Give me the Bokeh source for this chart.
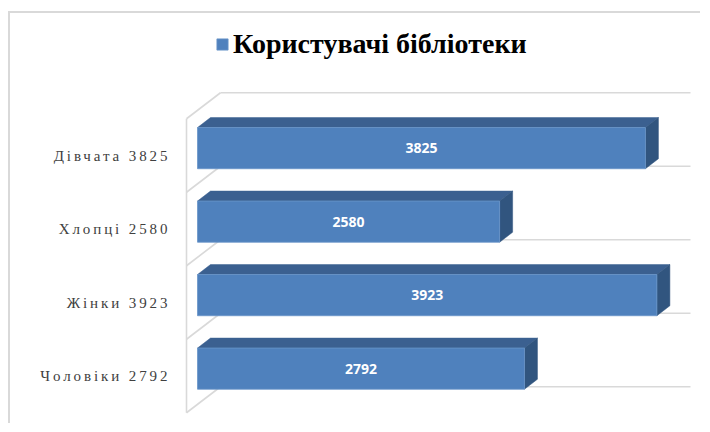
from bokeh.plotting import figure
from bokeh.layouts import row
from bokeh.models import Range1d, Legend, LegendItem, ColumnDataSource
from bokeh.embed import file_html
from bokeh.resources import INLINE
from bokeh.core.properties import value

# ---- data ----
categories = ["Чоловіки", "Жінки", "Хлопці", "Дівчата"]
counts = [2792, 3923, 2580, 3825]
series_name = "Користувачі бібліотеки"
tick_labels = [f"{c} {v}" for c, v in zip(categories, counts)]

# ---- style constants ----
FRONT = "#4F81BD"
TOP = "#3B6090"
SIDE = "#31557F"
WALL = "#D9D9D9"
PX_X = 0.1171          # pixels per value unit
PX_Y = 73.5            # pixels per category slot
BAR_H = 0.56
BAR_OFF = 0.10
BAR_DX = 13 / PX_X
BAR_DY = 10 / PX_Y
WALL_DX = 34 / PX_X
WALL_DY = 26 / PX_Y
SIDE_X = -11 / PX_X
BACK_END = 493 / PX_X
LETTER_SP = 2.9        # px, letter spacing of category labels
LABEL_RIGHT = 157      # px inside label panel

n = len(categories)
idx = list(range(n))
yc = [i + BAR_OFF for i in idx]

y_range = Range1d(-47.5 / PX_Y, 362.5 / PX_Y)

# ---- category label panel (left) ----
lab = figure(width=170, height=410, output_backend="svg", toolbar_location=None,
             x_axis_location=None, y_axis_location=None,
             x_range=Range1d(0, 170), y_range=y_range,
             min_border_left=0, min_border_right=0, min_border_top=0, min_border_bottom=0)
lab.grid.visible = False
lab.outline_line_color = None
lab.styles = {"letter-spacing": f"{LETTER_SP}px"}
lsrc = ColumnDataSource(dict(y=idx, text=tick_labels,
                             x=[LABEL_RIGHT] * n,
                             off=[-(len(t) - 1) * LETTER_SP for t in tick_labels]))
lab.text(x="x", y="y", text="text", x_offset="off", source=lsrc,
         text_font=value("Liberation Serif"), text_font_size="15px",
         text_color="#404040", text_align="right", text_baseline="middle")

# ---- main chart ----
p = figure(width=520, height=410, output_backend="svg", toolbar_location=None,
           x_axis_location=None, y_axis_location=None,
           x_range=Range1d(-17 / PX_X, 503 / PX_X), y_range=y_range,
           min_border_left=0, min_border_right=0, min_border_top=0, min_border_bottom=0)
p.grid.visible = False
p.outline_line_color = None

# walls
wx, wy = [], []
wx.append([SIDE_X, SIDE_X]); wy.append([-0.5, n - 0.5])
for k in range(n + 1):
    y0 = k - 0.5
    wx.append([SIDE_X, SIDE_X + WALL_DX]); wy.append([y0, y0 + WALL_DY])
    wx.append([SIDE_X + WALL_DX, BACK_END]); wy.append([y0 + WALL_DY, y0 + WALL_DY])
p.multi_line(xs=wx, ys=wy, line_color=WALL, line_width=1.6)

# 3D bar faces
top_xs, top_ys, side_xs, side_ys = [], [], [], []
for v, y in zip(counts, yc):
    yt, yb = y + BAR_H / 2, y - BAR_H / 2
    top_xs.append([0, v, v + BAR_DX, BAR_DX]); top_ys.append([yt, yt, yt + BAR_DY, yt + BAR_DY])
    side_xs.append([v, v + BAR_DX, v + BAR_DX, v]); side_ys.append([yb, yb + BAR_DY, yt + BAR_DY, yt])
p.patches(top_xs, top_ys, fill_color=TOP, line_color=TOP, line_width=0.5)
p.patches(side_xs, side_ys, fill_color=SIDE, line_color=SIDE, line_width=0.5)

src = ColumnDataSource(dict(y=yc, right=counts, mid=[v / 2 for v in counts],
                            lab=[str(v) for v in counts]))
front = p.hbar(y="y", left=0, right="right", height=BAR_H, source=src,
               fill_color=FRONT, line_color="#6A95C9", line_width=0.8)
p.text(x="mid", y="y", text="lab", source=src, text_color="white",
       text_font=value("Open Sans"), text_font_style="bold", text_font_size="14px",
       text_align="center", text_baseline="middle")

legend = Legend(items=[LegendItem(label=series_name, renderers=[front])],
                location=(35, 363), glyph_width=14, glyph_height=14,
                label_text_font="Liberation Serif", label_text_font_style="bold",
                label_text_font_size="28px", label_text_color="black",
                label_standoff=4, padding=0, margin=0,
                background_fill_alpha=0, border_line_color=None)
p.add_layout(legend)

layout = row(lab, p, spacing=0)
layout.styles = {"border-top": "2px solid #D9D9D9", "border-left": "2px solid #D9D9D9",
                 "margin-top": "11px", "margin-left": "8px", "background-color": "white"}

open("out.html", "w").write(file_html(layout, INLINE))
